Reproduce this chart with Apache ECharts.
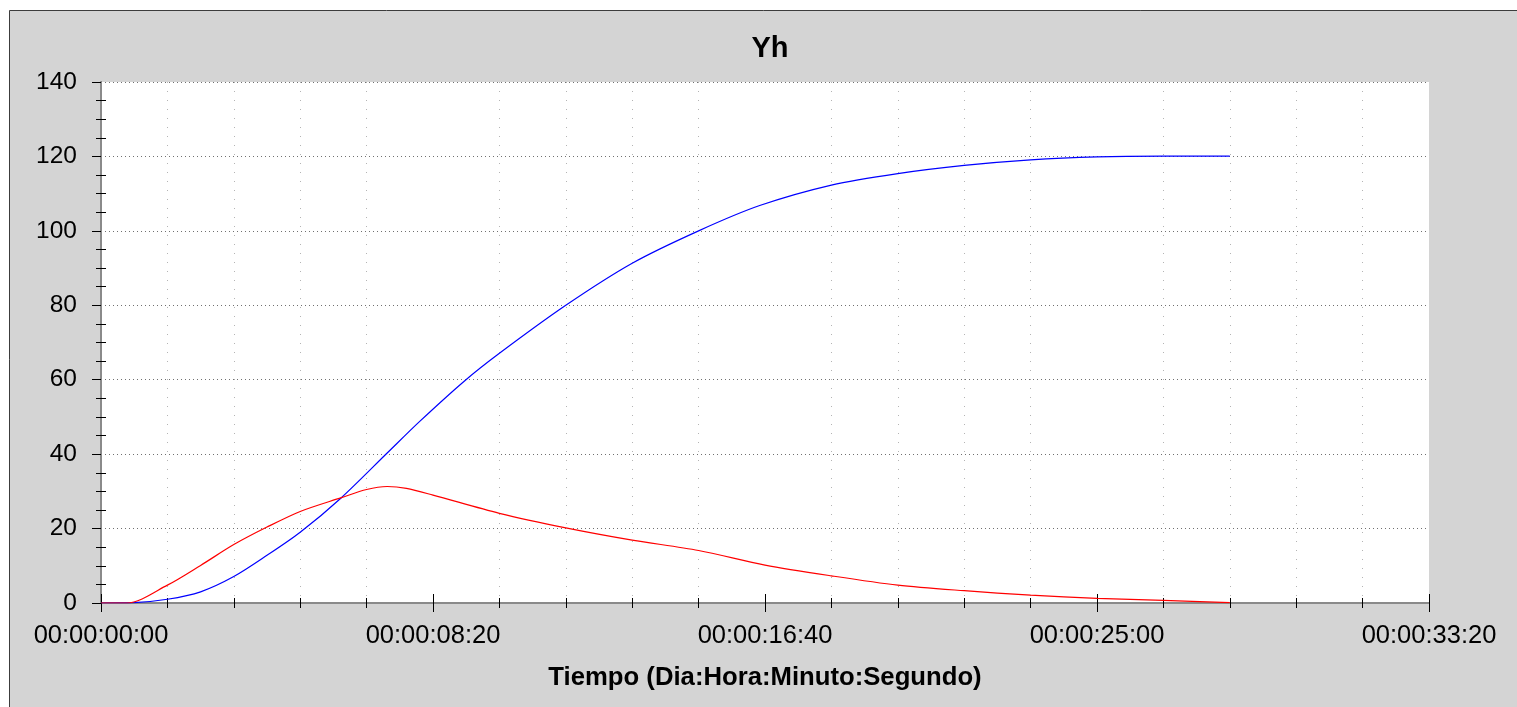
<!DOCTYPE html>
<html>
<head>
<meta charset="utf-8">
<title>Yh</title>
<script src="https://cdn.jsdelivr.net/npm/echarts@6/dist/echarts.min.js"></script>
<style>
  html, body { margin: 0; padding: 0; background: #ffffff; }
  #chart { width: 1517px; height: 707px; }
</style>
</head>
<body>
<div id="chart"></div>
<script>
// Time in seconds, values of the two Yh traces
const blueT = [0, 50, 100, 150, 200, 250, 300, 362, 431, 480, 547, 600, 700, 800, 900, 992, 1100, 1200, 1300, 1400, 1500, 1600, 1700];
const blueY = [0, 0.1, 1.0, 3.0, 7.1, 12.8, 19.0, 28.3, 40.3, 48.8, 59.6, 67.1, 80.0, 91.3, 100.0, 106.8, 112.3, 115.4, 117.6, 119.1, 119.9, 120.1, 120.1];

const redT = [0, 39, 100, 150, 200, 250, 300, 362, 400, 431, 460, 500, 600, 700, 800, 900, 1000, 1100, 1200, 1300, 1400, 1500, 1600, 1700];
const redY = [0, 0, 4.8, 10.1, 15.7, 20.4, 24.6, 28.3, 30.5, 31.3, 30.8, 29.0, 24.1, 20.2, 16.9, 14.1, 10.2, 7.3, 4.8, 3.3, 2.1, 1.25, 0.7, 0.1];

// Major ticks of the time axis (every 500 s)
const timeTickLabels = ['00:00:00:00', '00:00:08:20', '00:00:16:40', '00:00:25:00', '00:00:33:20'];

const zip = (ts, vs) => ts.map((t, i) => [t, vs[i]]);

const FONT = 'Liberation Sans, Arial, sans-serif';
const X_MIN = 0, X_MAX = 2000, X_STEP = 500;
const Y_MIN = 0, Y_MAX = 140, Y_STEP = 20;

const chart = echarts.init(document.getElementById('chart'), null, { renderer: 'canvas' });

const hidden = { show: false };

chart.setOption({
  backgroundColor: '#ffffff',
  animation: false,
  graphic: [{
    type: 'rect',
    z: -100,
    silent: true,
    shape: { x: 9.5, y: 10.5, width: 1700, height: 900 },
    style: { fill: '#d4d4d4', stroke: '#3c3c3c', lineWidth: 1 }
  }],
  title: {
    text: 'Yh',
    left: 765,
    top: 29,
    textAlign: 'center',
    textStyle: { fontFamily: FONT, fontWeight: 'bold', fontSize: 29, color: '#000' }
  },
  grid: {
    left: 101, top: 82, right: 88, bottom: 104,
    show: true,
    backgroundColor: '#ffffff',
    borderWidth: 0,
    containLabel: false,
    outerBoundsMode: 'none'
  },
  xAxis: [
    {
      // bottom time axis: labels, outward ticks, minor grid
      type: 'value', position: 'bottom',
      min: X_MIN, max: X_MAX, interval: X_STEP,
      name: 'Tiempo (Dia:Hora:Minuto:Segundo)',
      nameLocation: 'middle', nameGap: 62,
      nameTextStyle: { fontFamily: FONT, fontWeight: 'bold', fontSize: 25.7, color: '#000' },
      axisLine: { show: true, lineStyle: { color: '#8a8a8a', width: 2 } },
      axisTick: { show: true, length: 9, lineStyle: { color: '#000', width: 1 } },
      minorTick: { show: true, splitNumber: 5, length: 5, lineStyle: { color: '#000', width: 1 } },
      axisLabel: {
        show: true, margin: 20,
        fontFamily: FONT, fontSize: 25.5, color: '#000',
        formatter: v => timeTickLabels[Math.round(v / X_STEP)]
      },
      splitLine: hidden,
      minorSplitLine: { show: true, lineStyle: { color: '#b4b4b4', width: 1, type: [1, 8] } }
    },
    {
      // same scale, ticks pointing into the plot
      type: 'value', position: 'bottom',
      min: X_MIN, max: X_MAX, interval: X_STEP,
      axisLine: hidden,
      axisTick: { show: true, inside: true, length: 9, lineStyle: { color: '#000', width: 1 } },
      minorTick: { show: true, splitNumber: 5, length: 5, lineStyle: { color: '#000', width: 1 } },
      axisLabel: hidden, splitLine: hidden
    },
    {
      // top frame edge with inward ticks
      type: 'value', position: 'top',
      min: X_MIN, max: X_MAX, interval: X_STEP,
      axisLine: { show: true, lineStyle: { color: '#8a8a8a', width: 2 } },
      axisTick: { show: true, inside: true, length: 8, lineStyle: { color: '#000', width: 1 } },
      minorTick: { show: true, splitNumber: 5, length: 4, lineStyle: { color: '#000', width: 1 } },
      axisLabel: hidden, splitLine: hidden
    }
  ],
  yAxis: [
    {
      type: 'value', position: 'left',
      min: Y_MIN, max: Y_MAX, interval: Y_STEP,
      axisLine: { show: true, lineStyle: { color: '#000', width: 1 } },
      axisTick: { show: true, length: 9, lineStyle: { color: '#000', width: 1 } },
      minorTick: { show: true, splitNumber: 4, length: 5, lineStyle: { color: '#000', width: 1 } },
      axisLabel: { show: true, margin: 24, fontFamily: FONT, fontSize: 24.5, color: '#000' },
      splitLine: { show: true, lineStyle: { color: '#707070', width: 1, type: [1, 3] } }
    },
    {
      // minor ticks reaching into the plot
      type: 'value', position: 'left',
      min: Y_MIN, max: Y_MAX, interval: Y_STEP,
      axisLine: hidden,
      axisTick: { show: false, inside: true },
      minorTick: { show: true, splitNumber: 4, length: 5, lineStyle: { color: '#000', width: 1 } },
      axisLabel: hidden, splitLine: hidden
    },
    {
      // right frame edge
      type: 'value', position: 'right',
      min: Y_MIN, max: Y_MAX, interval: Y_STEP,
      axisLine: { show: true, lineStyle: { color: '#8a8a8a', width: 2 } },
      axisTick: hidden, axisLabel: hidden, splitLine: hidden
    }
  ],
  series: [
    {
      type: 'line', name: 'azul',
      xAxisIndex: 0, yAxisIndex: 0,
      data: zip(blueT, blueY),
      showSymbol: false, smooth: 0.3,
      lineStyle: { color: '#0000ff', width: 1.2 },
      itemStyle: { color: '#0000ff' },
      z: 5
    },
    {
      type: 'line', name: 'rojo',
      xAxisIndex: 0, yAxisIndex: 0,
      data: zip(redT, redY),
      showSymbol: false, smooth: 0.3,
      lineStyle: { color: '#ff0000', width: 1.2 },
      itemStyle: { color: '#ff0000' },
      z: 6
    }
  ]
});
</script>
</body>
</html>
